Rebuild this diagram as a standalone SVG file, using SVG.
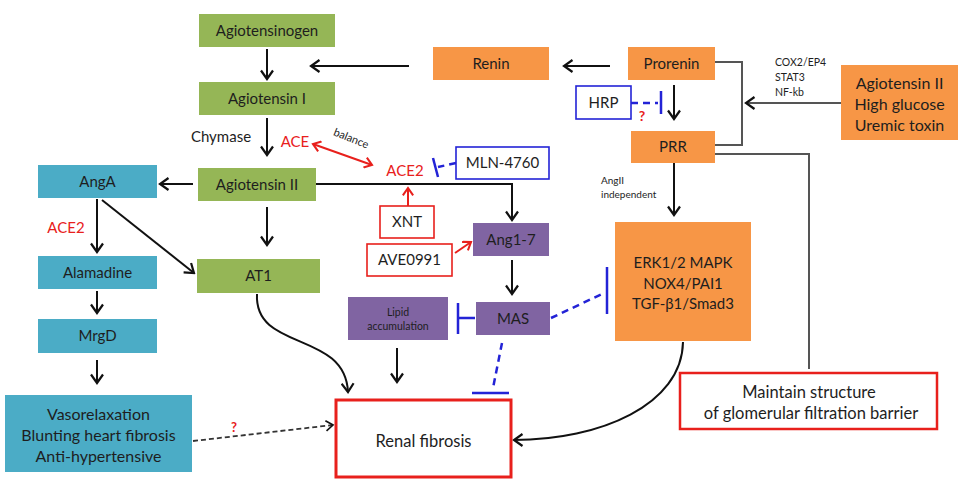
<svg xmlns="http://www.w3.org/2000/svg" width="964" height="484" viewBox="0 0 964 484">
<defs>
<marker id="ah" viewBox="0 0 12 14" refX="10" refY="7" markerWidth="12" markerHeight="14" markerUnits="userSpaceOnUse" orient="auto">
<path d="M1.5,1 L10,7 L1.5,13" fill="none" stroke="#111" stroke-width="2.2"/>
</marker>
<marker id="ahs" viewBox="0 0 12 14" refX="10" refY="7" markerWidth="10" markerHeight="12" markerUnits="userSpaceOnUse" orient="auto">
<path d="M1.5,1 L10,7 L1.5,13" fill="none" stroke="#111" stroke-width="2"/>
</marker>
<marker id="ahr" viewBox="0 0 12 14" refX="10" refY="7" markerWidth="11" markerHeight="12" markerUnits="userSpaceOnUse" orient="auto-start-reverse">
<path d="M1.5,1 L10,7 L1.5,13" fill="none" stroke="#e8201c" stroke-width="2.4"/>
</marker>
</defs>
<style>
text{font-family:Lato,"Liberation Sans",sans-serif;fill:#1e1e1e;text-anchor:middle}
.t{font-size:15px}
.tl{font-size:16.5px}
.g{fill:#95b656}
.b{fill:#4bacc6}
.o{fill:#f79646}
.p{fill:#8064a2}
.rb{fill:#fff;stroke:#e8201c;stroke-width:1.6}
.bb{fill:#fff;stroke:#2323d6;stroke-width:1.6}
.ln{fill:none;stroke:#111;stroke-width:2}
.gl{fill:none;stroke:#555;stroke-width:2}
.red{fill:none;stroke:#e8201c;stroke-width:2}
.blu{fill:none;stroke:#2323d6;stroke-width:2.5}
.bd{fill:none;stroke:#2323d6;stroke-width:2.5;stroke-dasharray:7,5}
.rt{fill:#e8201c}
</style>
<rect width="964" height="484" fill="#fff"/>

<g id="connectors">
<path class="ln" d="M267,49 V79" marker-end="url(#ah)"/>
<path class="ln" d="M409,66 H311" marker-end="url(#ah)"/>
<path class="ln" d="M267,118 V155" marker-end="url(#ah)"/>
<path class="ln" d="M193,184 H160" marker-end="url(#ah)"/>
<path class="ln" d="M267,207 V245" marker-end="url(#ah)"/>
<path class="ln" d="M316,184 H512 V220" marker-end="url(#ah)"/>
<path class="ln" d="M97,199 V252" marker-end="url(#ah)"/>
<path class="ln" d="M102,200 L194,273" marker-end="url(#ah)"/>
<path class="ln" d="M97,291 V313" marker-end="url(#ah)"/>
<path class="ln" d="M97,360 V383" marker-end="url(#ah)"/>
<path class="ln" d="M512,260 V294" marker-end="url(#ah)"/>
<path class="ln" d="M397,348 V382" marker-end="url(#ah)"/>
<path class="ln" d="M257,294 C254,352 345,330 348,392" marker-end="url(#ah)"/>
<path class="ln" d="M683,342 C682,405 600,440 514,440" marker-end="url(#ah)"/>
<path d="M193,441 L333,425" fill="none" stroke="#333" stroke-width="1.8" stroke-dasharray="5,3" marker-end="url(#ahs)"/>
<path class="ln" d="M610,66 H564" marker-end="url(#ah)"/>
<path class="ln" d="M674,85 V119" marker-end="url(#ah)"/>
<path class="gl" d="M715,62 H742 V145 H715"/>
<path class="gl" d="M841,103 H746" marker-end="url(#ah)"/>
<path class="ln" d="M674,163 V215" marker-end="url(#ah)"/>
<path class="gl" d="M715,154 H809 V369"/>
<path class="red" d="M313,144 L372,165" marker-start="url(#ahr)" marker-end="url(#ahr)"/>
<path class="red" d="M408,206 V188" marker-end="url(#ahr)"/>
<path class="red" d="M455,253 L471,242" marker-end="url(#ahr)"/>
<path class="bd" d="M456,163 L438,167"/>
<path class="blu" d="M433,158 L438,177"/>
<path class="bd" d="M631,103 H658"/>
<path class="blu" d="M661,91 V114"/>
<path class="blu" d="M458,303 V334 M458,318 H475"/>
<path class="bd" d="M551,318 L604,293"/>
<path class="blu" d="M607,267 V314"/>
<path class="bd" d="M502,343 L493,388"/>
<path class="blu" d="M472,393 H509"/>
</g>

<g id="agiotensinogen"><rect class="g" x="199" y="14" width="136" height="33"/><text class="t" x="267" y="36">Agiotensinogen</text></g>
<g id="agiotensin1"><rect class="g" x="199" y="82" width="136" height="33"/><text class="t" x="267" y="104">Agiotensin I</text></g>
<g id="agiotensin2"><rect class="g" x="198" y="168" width="118" height="33"/><text class="t" x="257" y="190">Agiotensin II</text></g>
<g id="at1"><rect class="g" x="197" y="259" width="123" height="34"/><text class="t" x="258.5" y="281">AT1</text></g>
<g id="anga"><rect class="b" x="38" y="165" width="119" height="33"/><text class="t" x="97.5" y="187">AngA</text></g>
<g id="alamadine"><rect class="b" x="38" y="256" width="119" height="33"/><text class="t" x="97.5" y="278">Alamadine</text></g>
<g id="mrgd"><rect class="b" x="38" y="319" width="119" height="34"/><text class="t" x="97.5" y="341">MrgD</text></g>
<g id="vaso"><rect class="b" x="5" y="395" width="187" height="77"/>
<text x="98.5" y="420" style="font-size:16px">Vasorelaxation</text>
<text x="98.5" y="441" style="font-size:16px">Blunting heart fibrosis</text>
<text x="98.5" y="462" style="font-size:16px">Anti-hypertensive</text></g>
<g id="renal"><rect x="336" y="400" width="175" height="77" fill="#fff" stroke="#e8201c" stroke-width="3"/><text class="tl" x="423.5" y="447">Renal fibrosis</text></g>
<g id="renin"><rect class="o" x="433" y="47" width="116" height="33"/><text class="t" x="491" y="69">Renin</text></g>
<g id="prorenin"><rect class="o" x="628" y="47" width="87" height="33"/><text class="t" x="671.5" y="69">Prorenin</text></g>
<g id="hrp"><rect class="bb" x="576" y="86" width="55" height="33"/><text class="t" x="603.5" y="108">HRP</text></g>
<g id="prr"><rect class="o" x="631" y="131" width="84" height="32"/><text class="t" x="673" y="152">PRR</text></g>
<g id="stimuli"><rect class="o" x="841" y="65" width="117" height="75"/>
<text x="899.5" y="89" style="font-size:16px">Agiotensin II</text>
<text x="899.5" y="110" style="font-size:16px">High glucose</text>
<text x="899.5" y="131" style="font-size:16px">Uremic toxin</text></g>
<g id="mln"><rect class="bb" x="456" y="147" width="93" height="32"/><text class="t" x="502.5" y="168">MLN-4760</text></g>
<g id="xnt"><rect class="rb" x="380" y="206" width="54" height="32"/><text class="t" x="407" y="227">XNT</text></g>
<g id="ave"><rect class="rb" x="367" y="244" width="85" height="32"/><text class="t" x="409.5" y="265">AVE0991</text></g>
<g id="ang17"><rect class="p" x="473" y="223" width="76" height="33"/><text class="t" x="511" y="245">Ang1-7</text></g>
<g id="mas"><rect class="p" x="476" y="302" width="74" height="33"/><text class="t" x="513" y="324">MAS</text></g>
<g id="lipid"><rect class="p" x="348" y="297" width="100" height="43"/>
<text x="398" y="316" style="font-size:10.5px">Lipid</text>
<text x="398" y="330" style="font-size:10.5px">accumulation</text></g>
<g id="erk"><rect class="o" x="615" y="222" width="136" height="119"/>
<text class="t" x="683" y="268">ERK1/2 MAPK</text>
<text class="t" x="683" y="289">NOX4/PAI1</text>
<text class="t" x="683" y="309">TGF-β1/Smad3</text></g>
<g id="maintain"><rect x="680" y="373" width="257" height="56" fill="#fff" stroke="#e8201c" stroke-width="2.5"/>
<text class="tl" x="809" y="398">Maintain structure</text>
<text class="tl" x="811" y="419">of glomerular filtration barrier</text></g>

<g id="labels">
<text x="221" y="142" style="font-size:15px">Chymase</text>
<text class="rt" x="295" y="147" style="font-size:15px">ACE</text>
<text x="351" y="142" style="font-size:11px" transform="rotate(22 351 139)">balance</text>
<text class="rt" x="405" y="176" style="font-size:15px">ACE2</text>
<text class="rt" x="66" y="233" style="font-size:15px">ACE2</text>
<text x="775" y="66" style="font-size:10.5px;text-anchor:start">COX2/EP4</text>
<text x="775" y="81" style="font-size:10.5px;text-anchor:start">STAT3</text>
<text x="775" y="96" style="font-size:10.5px;text-anchor:start">NF-kb</text>
<text x="601" y="184" style="font-size:10px;text-anchor:start">AngII</text>
<text x="601" y="198" style="font-size:10px;text-anchor:start">independent</text>
<text class="rt" x="642" y="121" style="font-size:14px;font-weight:bold">?</text>
<text class="rt" x="234" y="432" style="font-size:13px;font-weight:bold">?</text>
</g>
</svg>
